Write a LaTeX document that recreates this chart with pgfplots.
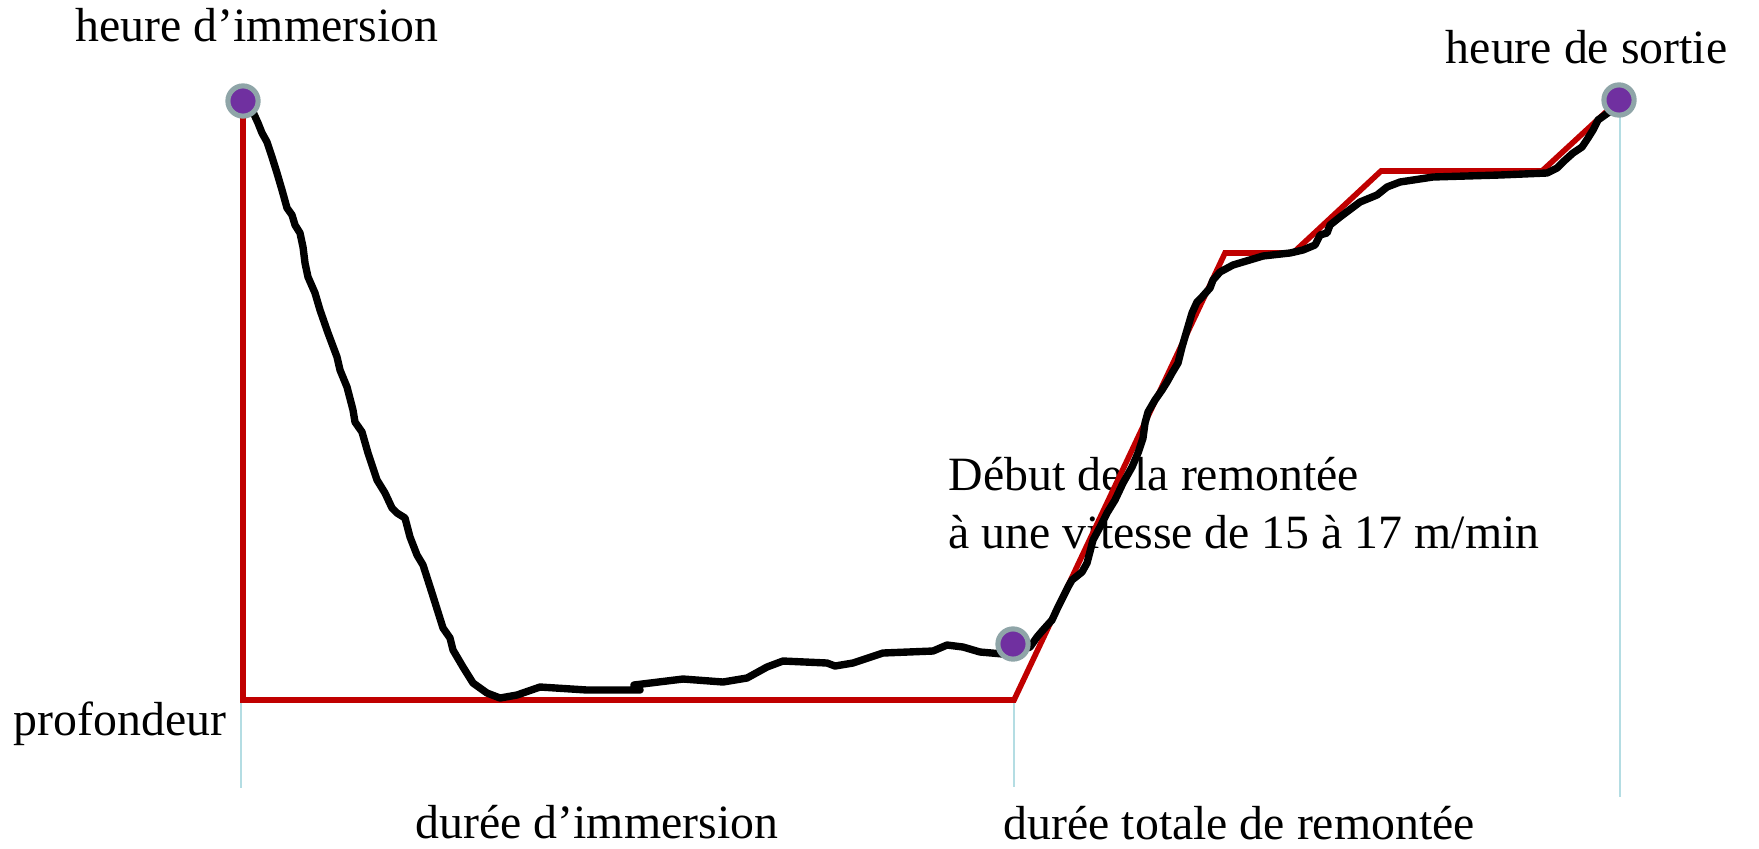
\documentclass[border=0pt]{standalone}
\usepackage{fontspec}
\setmainfont{Liberation Serif}
\usepackage{pgfplots}
\pgfplotsset{compat=1.18}
\definecolor{redline}{HTML}{C00000}
\definecolor{bluel}{HTML}{B4DDE3}
\definecolor{dotpurple}{HTML}{7030A0}
\definecolor{dotgray}{HTML}{8FA5A8}
\begin{document}
\begin{tikzpicture}
\begin{axis}[
  scale only axis, width=17.59cm, height=8.48cm,
  xmin=0, xmax=1759, ymin=0, ymax=848, y dir=reverse,
  hide axis, clip=false,
]
\path (axis cs:0,0) rectangle (axis cs:1759,848);
% texts (under the lines)
\node[anchor=base west, inner sep=0pt, font=\fontsize{13.6}{16.5}\selectfont] at (axis cs:75,42) {heure d’immersion};
\node[anchor=base east, inner sep=0pt, font=\fontsize{13.6}{16.5}\selectfont] at (axis cs:1728,64) {heure de sortie};
\node[anchor=base west, inner sep=0pt, font=\fontsize{13.6}{16.5}\selectfont] at (axis cs:13,735) {profondeur};
\node[anchor=base west, inner sep=0pt, font=\fontsize{13.6}{16.5}\selectfont] at (axis cs:415,838) {durée d’immersion};
\node[anchor=base west, inner sep=0pt, font=\fontsize{13.6}{16.5}\selectfont] at (axis cs:1003,839) {durée totale de remontée};
\node[anchor=base west, inner sep=0pt, font=\fontsize{13.6}{16.5}\selectfont] at (axis cs:948,490) {Début de la remontée};
\node[anchor=base west, inner sep=0pt, font=\fontsize{13.6}{16.5}\selectfont] at (axis cs:948,548) {à une vitesse de 15 à 17 m/min};
% light blue guide lines
\addplot[bluel, line width=0.6pt] coordinates {(241,700) (241,788)};
\addplot[bluel, line width=0.6pt] coordinates {(1014,700) (1014,787)};
\addplot[bluel, line width=0.6pt] coordinates {(1620,100) (1620,797)};
% red model profile
\addplot[redline, line width=1.6pt, line join=miter] coordinates {
(243,101) (243,700) (1014,700) (1225,253) (1293,253) (1381,171) (1542,171) (1619,100)};
% dots
\addplot[only marks, mark=*, mark size=4.3pt, mark options={fill=dotpurple, draw=dotgray, line width=1.45pt}] coordinates {(243,101) (1013,644) (1619,100)};
% black actual profile
\addplot[black, line width=2.1pt, line join=round, line cap=round] coordinates {
(245,105) (253,112) (258,123) (262,133) (267,142) (272,157) (277,173) (282,190) (287,208) (292,215) (295,225) (300,233) (303,247) (305,263) (308,277) (315,293) (320,310) (328,333) (337,357) (340,370) (347,387) (353,410)
(355,422) (362,432) (368,453) (377,480) (385,493) (392,508) (397,513) (405,518) (410,537) (417,555) (423,565) (432,593) (443,628) (450,638) (453,650) (463,667) (473,683) (487,693) (500,698) (517,695) (540,687)
(587,690) (640,690) (634,685) (683,679) (723,682) (747,678) (767,667) (783,661) (827,663) (835,666) (853,663) (883,653) (933,651) (947,645) (963,647) (980,652) (1003,654) (1013,653)
(1030,647) (1037,637) (1043,630) (1052,620) (1058,607) (1068,587) (1072,580) (1082,572) (1087,563) (1093,540) (1100,527) (1107,513) (1115,500) (1123,483) (1132,467) (1138,453) (1143,438) (1145,423) (1148,412) (1155,400)
(1162,390) (1167,382) (1172,373) (1178,363) (1182,347) (1187,330) (1192,313) (1197,302) (1202,297) (1210,288) (1213,280) (1220,272) (1233,265) (1263,256) (1290,253) (1303,250) (1315,245) (1320,235) (1327,233) (1330,225) (1340,217) (1360,202) (1377,195) (1387,187) (1400,182) (1433,177) (1500,175) (1547,173) (1557,168) (1563,162) (1573,153) (1582,147) (1588,138) (1593,130) (1598,120) (1612,110)};
\end{axis}
\end{tikzpicture}
\end{document}
